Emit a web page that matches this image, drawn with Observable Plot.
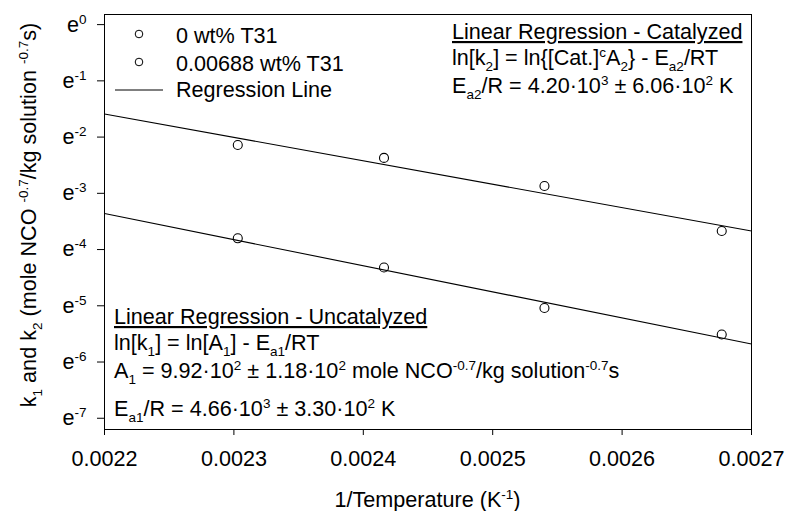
<!DOCTYPE html>
<html><head><meta charset="utf-8">
<script src="https://cdn.jsdelivr.net/npm/d3@7"></script>
<script src="https://cdn.jsdelivr.net/npm/@observablehq/plot@0.6"></script>
<style>body{margin:0;background:#fff}</style>
</head><body><div id="chart"></div>
<script>
// 1/T values (K^-1)
const invT = [0.002303, 0.002416, 0.00254, 0.002677];
// ln(k) values
const lnK1 = [-3.80, -4.32, -5.04, -5.51];   // 0 wt% T31 (uncatalyzed)
const lnK2 = [-2.14, -2.37, -2.87, -3.67];   // 0.00688 wt% T31 (catalyzed)
// regression line end points (ln k) across the axis range
const regX = [0.0022, 0.0027];
const regLnK1 = [-3.36, -5.68];
const regLnK2 = [-1.59, -3.67];
const yTickExps = [0, -1, -2, -3, -4, -5, -6, -7];
const xTicks = [0.0022, 0.0023, 0.0024, 0.0025, 0.0026, 0.0027];
const seriesNames = ["0 wt% T31", "0.00688 wt% T31"];
const lineName = "Regression Line";

const points = [
  ...invT.map((x, i) => ({x, k: Math.exp(lnK1[i]), s: seriesNames[0]})),
  ...invT.map((x, i) => ({x, k: Math.exp(lnK2[i]), s: seriesNames[1]}))
];
const lines = [
  ...regX.map((x, i) => ({x, k: Math.exp(regLnK1[i]), s: "k1"})),
  ...regX.map((x, i) => ({x, k: Math.exp(regLnK2[i]), s: "k2"}))
];

const FS = 21.6, SFS = 13.5;
const plot = Plot.plot({
  width: 786, height: 511,
  marginLeft: 104, marginRight: 35, marginTop: 14, marginBottom: 82,
  style: {fontFamily: "'Liberation Sans', Arial, sans-serif", fontSize: FS + "px", background: "#fff", color: "#000"},
  x: {domain: [0.0022, 0.0027], ticks: xTicks, tickFormat: d3.format(".4f"), label: null, tickSize: 6, tickPadding: 15},
  y: {type: "log", base: Math.E, domain: [Math.exp(-7.2), Math.exp(0.18)], ticks: yTickExps.map(Math.exp),
      tickFormat: d => "e" + Math.round(Math.log(d)), label: null, tickSize: 7, tickPadding: 11},
  marks: [
    Plot.frame({stroke: "#000"}),
    Plot.line(lines, {x: "x", y: "k", z: "s", stroke: "#000", strokeWidth: 1.1}),
    Plot.dot(points, {x: "x", y: "k", r: 4.5, stroke: "#000", fill: "none", strokeWidth: 1.1})
  ]
});
document.getElementById("chart").appendChild(plot);
const svg = d3.select(plot);

// superscript exponents on y tick labels
svg.selectAll('g[aria-label="y-axis tick label"] text').each(function () {
  const s = this.textContent;
  const t = d3.select(this);
  t.text("");
  t.append("tspan").text("e");
  t.append("tspan").attr("dy", -8).attr("font-size", SFS + "px").text(s.slice(1));
});

// rich text helper: _{sub} and ^{sup}
function rich(g, x, y, markup, opts = {}) {
  const t = g.append("text").attr("x", x).attr("y", y).attr("font-size", FS + "px").attr("fill", "#000")
    .attr("text-anchor", opts.anchor || "start");
  if (opts.transform) t.attr("transform", opts.transform);
  if (opts.underline) t.attr("text-decoration", "underline");
  const re = /([_^])\{([^}]*)\}/g;
  let last = 0, shift = 0, m;
  const parts = [];
  while ((m = re.exec(markup))) {
    if (m.index > last) parts.push([markup.slice(last, m.index), 0]);
    parts.push([m[2], m[1] === "_" ? 6 : -8]);
    last = re.lastIndex;
  }
  if (last < markup.length) parts.push([markup.slice(last), 0]);
  for (const [s, off] of parts) {
    const ts = t.append("tspan").attr("dy", off - shift).text(s);
    if (off !== 0) ts.attr("font-size", SFS + "px");
    shift = off;
  }
  return t;
}

const g = svg.append("g");
// legend
g.append("circle").attr("cx", 139).attr("cy", 34).attr("r", 3.8).attr("fill", "none").attr("stroke", "#000");
g.append("circle").attr("cx", 139).attr("cy", 62).attr("r", 3.8).attr("fill", "none").attr("stroke", "#000");
g.append("line").attr("x1", 115).attr("x2", 163).attr("y1", 90).attr("y2", 90).attr("stroke", "#000");
rich(g, 176, 43, seriesNames[0]);
rich(g, 176, 71, seriesNames[1]);
rich(g, 176, 97, lineName);

// catalyzed annotation
rich(g, 452, 39, "Linear Regression - Catalyzed", {underline: true});
rich(g, 452, 65, "ln[k_{2}] = ln{[Cat.]^{c}A_{2}} - E_{a2}/RT");
rich(g, 452, 93, "E_{a2}/R = 4.20·10^{3} ± 6.06·10^{2} K");

// uncatalyzed annotation
rich(g, 114, 324, "Linear Regression - Uncatalyzed", {underline: true});
rich(g, 114, 349.5, "ln[k_{1}] = ln[A_{1}] - E_{a1}/RT");
rich(g, 114, 378, "A_{1} = 9.92·10^{2} ± 1.18·10^{2} mole NCO^{-0.7}/kg solution^{-0.7}s");
rich(g, 114, 416, "E_{a1}/R = 4.66·10^{3} ± 3.30·10^{2} K");

// axis titles
rich(g, 427.5, 507, "1/Temperature (K^{-1})", {anchor: "middle"});
rich(g, 0, 0, "k_{1} and k_{2} (mole NCO ^{-0.7}/kg solution ^{-0.7}s)", {anchor: "middle", transform: "translate(36,215) rotate(-90)"});
</script></body></html>
